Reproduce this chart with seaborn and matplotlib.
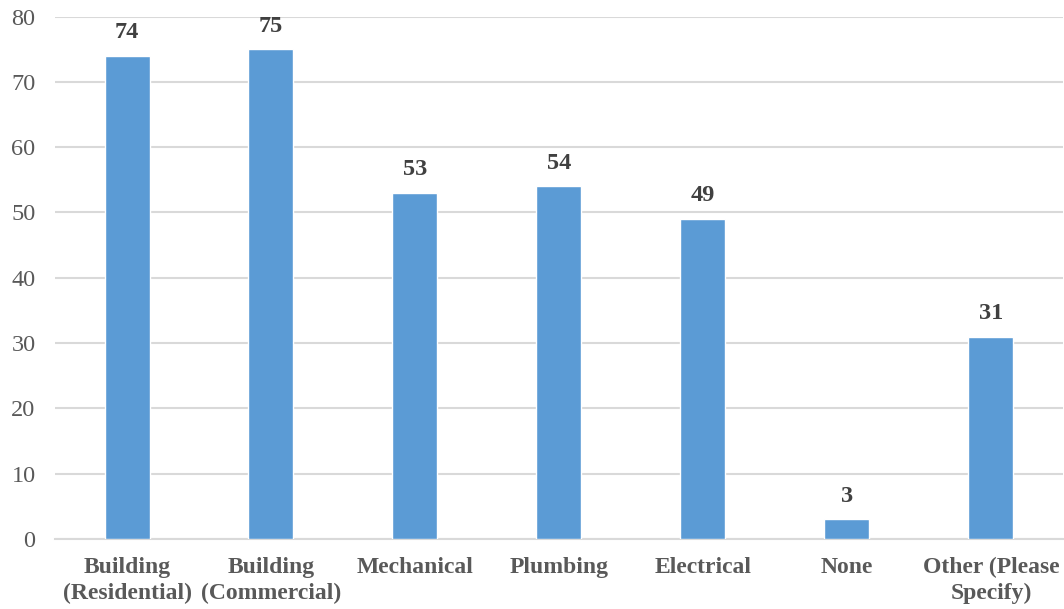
import matplotlib
matplotlib.use("Agg")
import matplotlib.pyplot as plt
import seaborn as sns
import pandas as pd

categories = ["Building\n(Residential)", "Building\n(Commercial)", "Mechanical",
              "Plumbing", "Electrical", "None", "Other (Please\nSpecify)"]
counts = [74, 75, 53, 54, 49, 3, 31]
y_ticks = [0, 10, 20, 30, 40, 50, 60, 70, 80]

sns.set_theme(style="white")
plt.rcParams["font.family"] = ["Liberation Serif", "DejaVu Serif"]

df = pd.DataFrame({"category": categories, "count": counts})

fig = plt.figure(figsize=(10.64, 6.09), dpi=100)
ax = fig.add_axes([0.0517, 0.1149, 0.9473, 0.858])

sns.barplot(data=df, x="category", y="count", color="#5B9BD5", saturation=1,
            width=0.3125, ax=ax, zorder=3)

ax.set_ylim(0, 80)
ax.set_yticks(y_ticks)
ax.set_yticklabels([str(t) for t in y_ticks], fontsize=17.5, color="#595959")
ax.yaxis.grid(True, color="#D9D9D9", linewidth=1.5, zorder=0)
ax.set_axisbelow(True)
ax.tick_params(axis="y", length=0, pad=14)
ax.tick_params(axis="x", length=0, pad=13)
for lbl in ax.get_xticklabels():
    lbl.set_fontsize(17)
    lbl.set_fontweight("bold")
    lbl.set_color("#595959")
    lbl.set_linespacing(1.3)
ax.set_xlabel("")
ax.set_ylabel("")
for side in ["top", "right", "left"]:
    ax.spines[side].set_visible(False)
ax.spines["bottom"].set_color("#D9D9D9")
ax.spines["bottom"].set_linewidth(1.5)

for i, v in enumerate(counts):
    ax.annotate(str(v), xy=(i, v), xytext=(0, 9), textcoords="offset points",
                ha="center", va="bottom", fontsize=17.5, fontweight="bold",
                color="#404040")

fig.savefig("out.png", dpi=100)
